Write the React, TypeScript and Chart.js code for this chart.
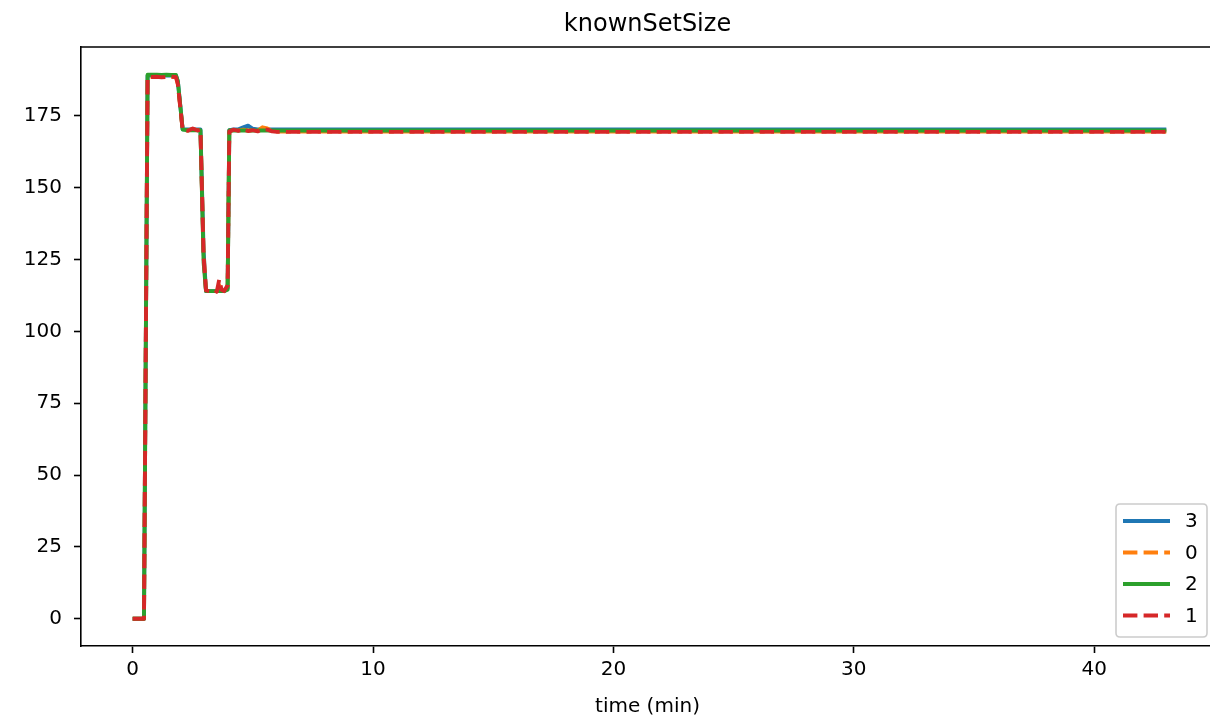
import React, { useEffect, useRef } from "react";
import { Chart, registerables } from "chart.js";

Chart.register(...registerables);

// time in minutes
const times = [
  0, 0.1, 0.2, 0.3, 0.4, 0.47, 0.62, 0.8, 1.0, 1.2, 1.4, 1.6, 1.8, 1.88, 2.08,
  2.3, 2.5, 2.7, 2.82, 2.95, 3.05, 3.2, 3.4, 3.5, 3.6, 3.7, 3.8, 3.95, 4.02,
  4.2, 4.4, 4.6, 4.8, 5.0, 5.2, 5.4, 5.6, 5.8, 6.0, 7.0, 8.0, 10, 12, 15, 18,
  21, 24, 27, 30, 33, 36, 39, 42, 43.0,
];

const series3 = [
  0, 0, 0, 0, 0, 0, 189, 189, 189, 189, 189, 189, 189, 187, 170.3,
  170.3, 170.3, 170.3, 170.3, 128, 114, 114, 114, 114, 114, 114, 114, 115, 170,
  170.3, 170.3, 171, 171.6, 170.5, 170.3, 170.3, 170.3, 170.3, 170.3, 170.3, 170.3, 170.3, 170.3, 170.3, 170.3,
  170.3, 170.3, 170.3, 170.3, 170.3, 170.3, 170.3, 170.3, 170.3,
];

const series0 = [
  0, 0, 0, 0, 0, 0, 188.6, 188.6, 188.7, 188.5, 188.6, 188.7, 188.6, 186, 170,
  170, 170.4, 170, 170.1, 127, 114.2, 114, 114.4, 114, 116, 114.4, 114, 115.5, 169.6,
  170.1, 169.9, 170.2, 169.9, 170, 169.8, 171, 170.6, 169.7, 169.5, 169.5, 169.5, 169.5, 169.5, 169.5, 169.5,
  169.5, 169.5, 169.5, 169.5, 169.5, 169.5, 169.5, 169.5, 169.5,
];

const series2 = [
  0, 0, 0, 0, 0, 0, 189.3, 189.3, 189.3, 189.2, 189.3, 189.2, 189.2, 187, 170.2,
  170, 170, 170, 170, 124, 114, 114, 114, 114, 114, 114, 114, 114.5, 170,
  169.9, 169.9, 169.9, 169.9, 169.9, 169.9, 169.9, 169.9, 169.9, 169.9, 169.9, 169.9, 169.9, 169.9, 169.9, 169.9,
  169.9, 169.9, 169.9, 169.9, 169.9, 169.9, 169.9, 169.9, 169.9,
];

const series1 = [
  0, 0, 0, 0, 0, 0, 188.4, 188.5, 188.6, 188.4, 188.5, 188.6, 188.5, 186, 170,
  169.8, 170.6, 169.9, 170.2, 126, 114.3, 114, 114.5, 113.8, 118, 114.5, 114, 116, 169.5,
  170.2, 169.8, 170.4, 169.7, 170, 169.6, 170.3, 170.2, 169.6, 169.4, 169.4, 169.4, 169.4, 169.4, 169.4, 169.4,
  169.4, 169.4, 169.4, 169.4, 169.4, 169.4, 169.4, 169.4, 169.4,
];

const seriesLabels = ["3", "0", "2", "1"];
const seriesColors = ["#1f77b4", "#ff7f0e", "#2ca02c", "#d62728"];
const seriesDashed = [false, true, false, true];
const seriesValues = [series3, series0, series2, series1];

const xTicks = [0, 10, 20, 30, 40];
const yTicks = [0, 25, 50, 75, 100, 125, 150, 175];

const titleText = "knownSetSize";
const xLabelText = "time (min)";

const FONT = "'DejaVu Sans', sans-serif";
const LW = 3.9;
const DASH = [14.4, 6.2];

export default function App() {
  const ref = useRef<HTMLCanvasElement>(null);

  useEffect(() => {
    document.body.style.margin = "0";
    const canvas = ref.current;
    if (!canvas) return;

    const decorPlugin = {
      id: "decor",
      afterDraw(chart: any) {
        const ctx = chart.ctx;
        const a = chart.chartArea;
        ctx.save();
        // top & right spines
        ctx.strokeStyle = "#000";
        ctx.lineWidth = 1.6;
        ctx.beginPath();
        ctx.moveTo(a.left, a.top);
        ctx.lineTo(a.right, a.top);
        ctx.lineTo(a.right, a.bottom);
        ctx.stroke();

        // title
        ctx.fillStyle = "#000";
        ctx.font = `24px ${FONT}`;
        ctx.textAlign = "center";
        ctx.textBaseline = "alphabetic";
        const cx = (a.left + a.right) / 2 - 2;
        ctx.fillText(titleText, cx, 31);

        // x label
        ctx.font = `20px ${FONT}`;
        ctx.fillText(xLabelText, cx, 712);

        // legend
        const lx = 1116, ly = 504, lw = 91, lh = 133, r = 4;
        ctx.beginPath();
        ctx.moveTo(lx + r, ly);
        ctx.lineTo(lx + lw - r, ly);
        ctx.quadraticCurveTo(lx + lw, ly, lx + lw, ly + r);
        ctx.lineTo(lx + lw, ly + lh - r);
        ctx.quadraticCurveTo(lx + lw, ly + lh, lx + lw - r, ly + lh);
        ctx.lineTo(lx + r, ly + lh);
        ctx.quadraticCurveTo(lx, ly + lh, lx, ly + lh - r);
        ctx.lineTo(lx, ly + r);
        ctx.quadraticCurveTo(lx, ly, lx + r, ly);
        ctx.closePath();
        ctx.fillStyle = "rgba(255,255,255,0.8)";
        ctx.fill();
        ctx.strokeStyle = "#cccccc";
        ctx.lineWidth = 1.6;
        ctx.stroke();

        const rowY = [521, 552.5, 584, 615.5];
        seriesLabels.forEach((lab, i) => {
          const y = rowY[i];
          ctx.strokeStyle = seriesColors[i];
          ctx.lineWidth = LW;
          ctx.lineCap = "butt";
          ctx.setLineDash(seriesDashed[i] ? DASH : []);
          ctx.beginPath();
          ctx.moveTo(1123, y);
          ctx.lineTo(1170, y);
          ctx.stroke();
          ctx.setLineDash([]);
          ctx.fillStyle = "#000";
          ctx.font = `20px ${FONT}`;
          ctx.textAlign = "left";
          ctx.textBaseline = "middle";
          ctx.fillText(lab, 1185, y + 1);
        });
        ctx.restore();
      },
    };

    const datasets = seriesLabels.map((lab, i) => ({
      label: lab,
      data: times.map((t, j) => ({ x: t, y: seriesValues[i][j] })),
      borderColor: seriesColors[i],
      backgroundColor: seriesColors[i],
      borderWidth: LW,
      borderDash: seriesDashed[i] ? DASH : [],
      borderCapStyle: "butt" as const,
      borderJoinStyle: "round" as const,
      pointRadius: 0,
      tension: 0,
      fill: false,
      order: seriesLabels.length - i,
    }));

    const chart = new Chart(canvas, {
      type: "line",
      data: { datasets },
      plugins: [decorPlugin],
      options: {
        animation: false,
        responsive: false,
        maintainAspectRatio: false,
        layout: { padding: { top: 47, right: 2, left: 0, bottom: 0 } },
        plugins: {
          legend: { display: false },
          title: { display: false },
          tooltip: { enabled: false },
        },
        scales: {
          x: {
            type: "linear",
            min: -2.15,
            max: 45.15,
            afterFit: (s: any) => {
              s.height = 70;
            },
            afterBuildTicks: (s: any) => {
              s.ticks = xTicks.map((v) => ({ value: v }));
            },
            grid: {
              display: true,
              drawOnChartArea: false,
              drawTicks: true,
              tickLength: 7,
              tickWidth: 1.6,
              tickColor: "#000",
            },
            border: { display: true, color: "#000", width: 1.6 },
            ticks: {
              font: { family: FONT, size: 20 },
              color: "#000",
              padding: 5,
              maxRotation: 0,
              autoSkip: false,
              callback: (v: any) => String(v),
            },
          },
          y: {
            type: "linear",
            min: -9.475,
            max: 198.95,
            afterFit: (s: any) => {
              s.width = 81;
            },
            afterBuildTicks: (s: any) => {
              s.ticks = yTicks.map((v) => ({ value: v }));
            },
            grid: {
              display: true,
              drawOnChartArea: false,
              drawTicks: true,
              tickLength: 7,
              tickWidth: 1.6,
              tickColor: "#000",
            },
            border: { display: true, color: "#000", width: 1.6 },
            ticks: {
              font: { family: FONT, size: 20 },
              color: "#000",
              padding: 12,
              autoSkip: false,
              callback: (v: any) => String(v),
            },
          },
        },
      },
    });

    return () => chart.destroy();
  }, []);

  return (
    <div style={{ width: 1210, height: 716, overflow: "hidden", position: "relative", background: "#fff" }}>
      <canvas ref={ref} width={1220} height={716} style={{ display: "block" }} />
    </div>
  );
}
